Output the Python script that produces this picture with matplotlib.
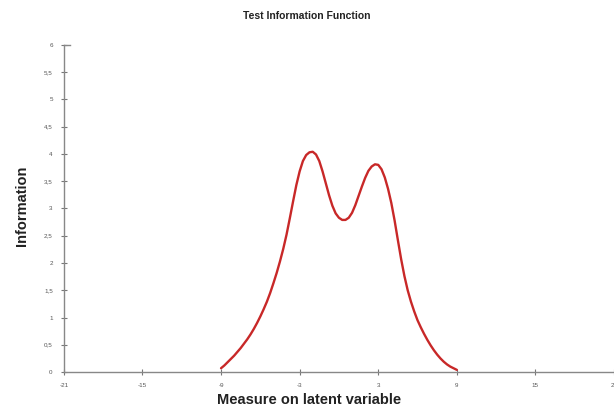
import numpy as np
import matplotlib.pyplot as plt

theta = np.arange(-9, 9.001, 0.25)
info = [0.07, 0.12, 0.18, 0.24, 0.30, 0.37, 0.44, 0.52, 0.60, 0.69, 0.79, 0.90,
        1.02, 1.15, 1.29, 1.45, 1.63, 1.82, 2.03, 2.26, 2.52, 2.82, 3.13, 3.43,
        3.68, 3.87, 3.98, 4.03, 4.04, 3.99, 3.87, 3.68, 3.46, 3.24, 3.05, 2.91,
        2.83, 2.79, 2.79, 2.83, 2.92, 3.06, 3.23, 3.40, 3.56, 3.69, 3.77, 3.81,
        3.80, 3.72, 3.57, 3.36, 3.10, 2.78, 2.42, 2.07, 1.76, 1.50, 1.29, 1.11,
        0.95, 0.82, 0.70, 0.59, 0.49, 0.40, 0.32, 0.25, 0.19, 0.14, 0.10, 0.07,
        0.04]

xticks = [-21, -15, -9, -3, 3, 9, 15, 21]
yticks = [0, 0.5, 1, 1.5, 2, 2.5, 3, 3.5, 4, 4.5, 5, 5.5, 6]
ylabels = [str(v).replace('.', ',') for v in yticks]

plt.rcParams['font.family'] = ['Liberation Sans', 'DejaVu Sans']

fig = plt.figure(figsize=(6.14, 4.12), dpi=100)
ax = fig.add_axes([0.104, 0.097, 0.896, 0.794])

ax.plot(theta, info, color='#c82828', linewidth=1.7,
        solid_capstyle='round', solid_joinstyle='round')

ax.set_xlim(-21, 21)
ax.set_ylim(0, 6)
ax.set_xticks(xticks)
ax.set_xticklabels([str(v) for v in xticks])
ax.set_yticks(yticks)
ax.set_yticklabels(ylabels)
ax.tick_params(direction='inout', length=4, width=0.8, color='#777777',
               labelsize=4.5, labelcolor='#555555', pad=6)

for s in ['top', 'right']:
    ax.spines[s].set_visible(False)
for s in ['left', 'bottom']:
    ax.spines[s].set_color('#888888')
    ax.spines[s].set_linewidth(1.0)

# small cap at top of the y axis
ax.plot([0, 0.012], [6, 6], transform=ax.get_yaxis_transform(),
        color='#888888', linewidth=1.0, clip_on=False)

fig.text(0.5, 0.962, 'Test Information Function', ha='center', va='center',
         fontsize=7.5, fontweight='bold', color='#222222')
fig.text(0.504, 0.03, 'Measure on latent variable', ha='center', va='center',
         fontsize=10.5, fontweight='bold', color='#222222')
fig.text(0.036, 0.5, 'Information', ha='center', va='center', rotation=90,
         fontsize=10.5, fontweight='bold', color='#222222',
         family=['Liberation Sans Narrow', 'Liberation Sans', 'DejaVu Sans'])

fig.savefig('out.png', dpi=100)
